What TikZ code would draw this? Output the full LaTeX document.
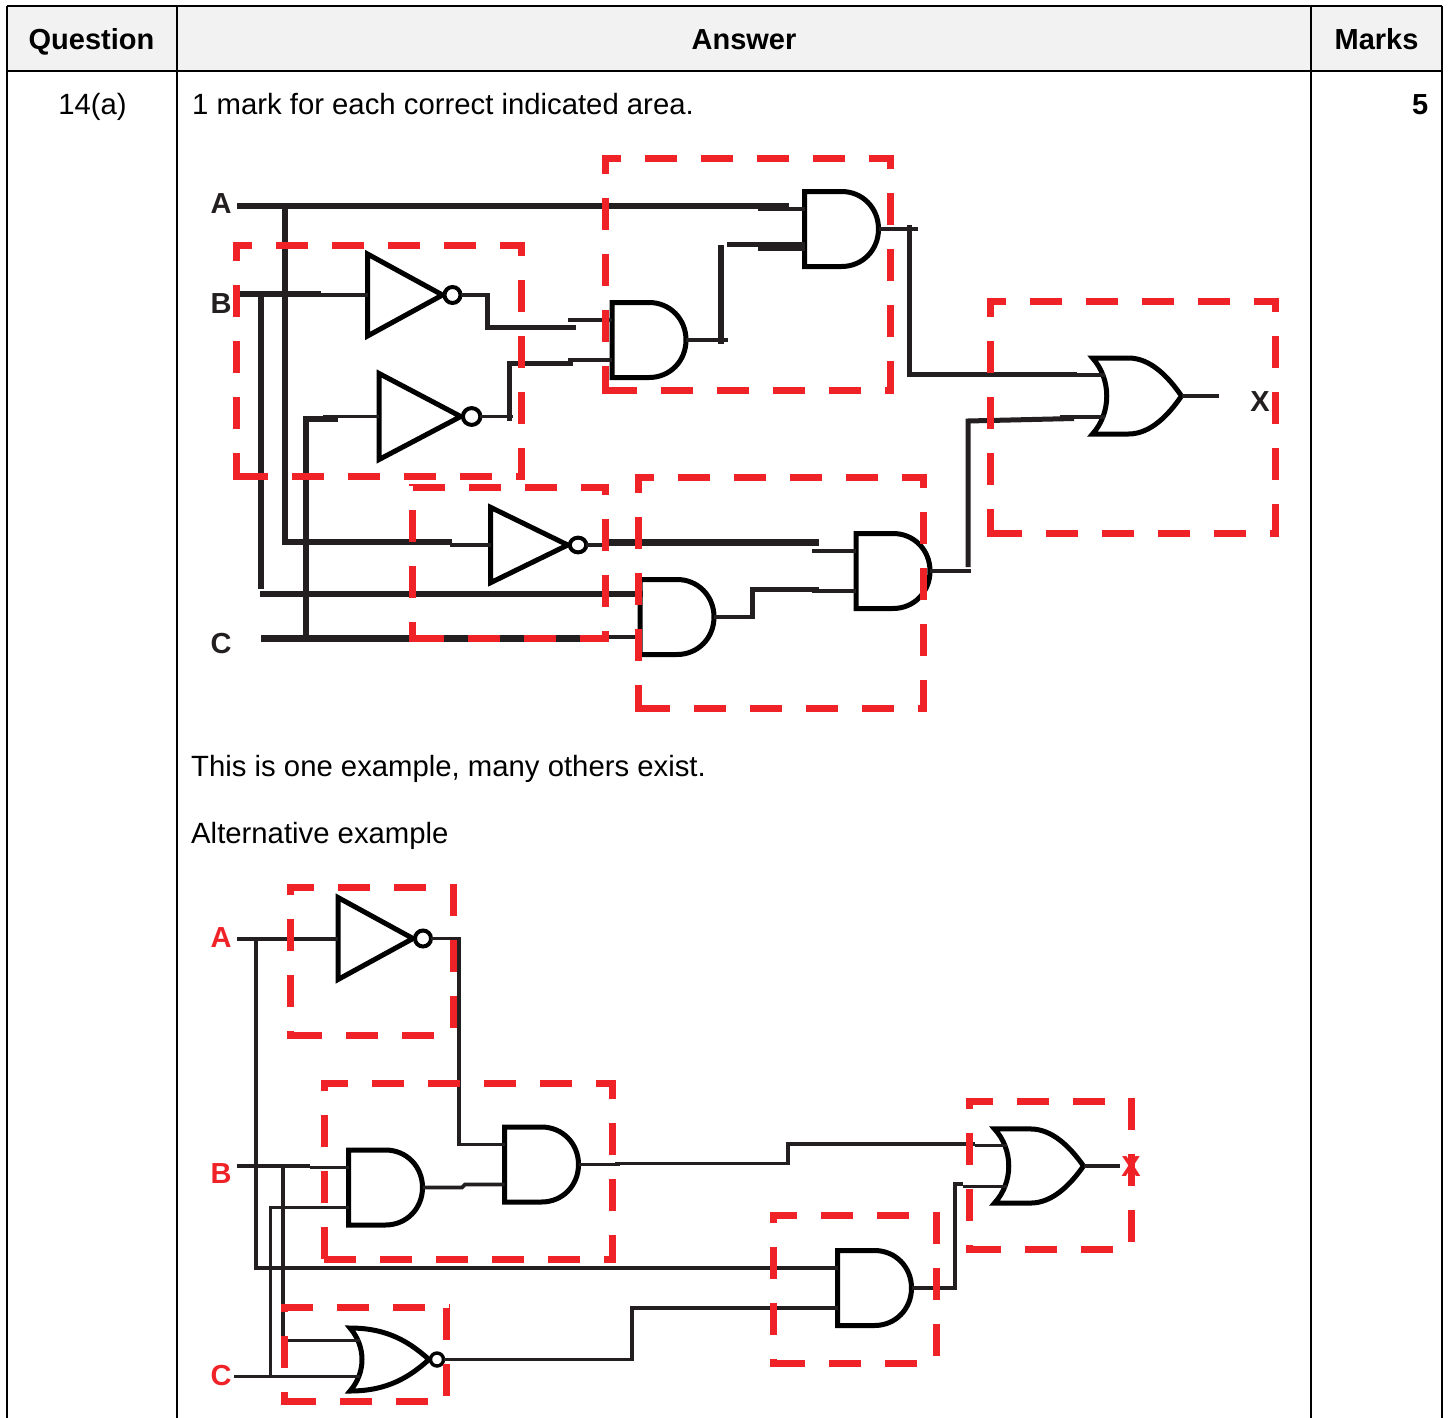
\documentclass[tikz,border=0pt]{standalone}
\usepackage{fontspec}
\setmainfont{Liberation Sans}
\definecolor{mred}{HTML}{EE2227}
\definecolor{ink}{HTML}{231F20}
\definecolor{headfill}{HTML}{F2F2F2}
\newcommand{\txt}{\fontsize{29.3}{34}\selectfont}
\newcommand{\lab}{\fontsize{29}{34}\selectfont\bfseries}
\newcommand{\redbox}[8]{%
  \draw[redsq,dash phase=#5pt] (#1-3.5,#2) -- (#3+3.5,#2);
  \draw[redsq,dash phase=#6pt] (#1,#2-3.5) -- (#1,#4+3.5);
  \draw[redsq,dash phase=#7pt] (#1,#4) -- (#3+3.5,#4);
  \draw[redsq,dash phase=#8pt] (#3,#2-3.5) -- (#3,#4+3.5);
}
\tikzset{
  x=1pt,y=-1pt,
  redsq/.style={draw=mred,line width=7pt,dash pattern=on 32pt off 24pt},
  gateline/.style={draw=black,line width=5pt,line join=miter},
  pin/.style={draw=ink,line width=3.6pt},
  wirea/.style={draw=ink,line width=6.5pt},
  wireb/.style={draw=ink,line width=5pt,line join=miter},
  wirec/.style={draw=ink,line width=3.6pt,line join=miter},
  wirecb/.style={draw=ink,line width=4.4pt},
  rule/.style={draw=black,line width=1.6pt},
  head/.style={font=\lab,text=black,anchor=base,inner sep=0pt},
  body/.style={font=\txt,text=black,anchor=base west,inner sep=0pt},
  sig/.style={font=\lab,text=ink,anchor=base,inner sep=0pt},
  sigred/.style={font=\lab,text=mred,anchor=base,inner sep=0pt},
  andgate/.pic={
    \draw[gateline] (0,-37.5) -- (37,-37.5) .. controls (58,-37.5) and (74,-21) .. (74,0)
      .. controls (74,21) and (58,37.5) .. (37,37.5) -- (0,37.5) -- cycle;
    \coordinate (-i1) at (0,-20); \coordinate (-i2) at (0,20); \coordinate (-o) at (74,0);
  },
  orgate/.pic={
    \draw[gateline] (0,-38) -- (36,-38) .. controls (58,-38) and (76,-19) .. (89,0)
      .. controls (76,19) and (58,38) .. (36,38) -- (0,38)
      .. controls (19,17) and (19,-17) .. (0,-38) -- cycle;
    \coordinate (-i1) at (12,-21); \coordinate (-i2) at (12,21); \coordinate (-o) at (89,0);
  },
  norgate/.pic={
    \draw[gateline] (0,-31.5) .. controls (38,-31.5) and (60,-17) .. (79,0)
      .. controls (60,17) and (38,31.5) .. (0,31.5)
      .. controls (16,13) and (16,-13) .. (0,-31.5) -- cycle;
    \draw[draw=black,line width=3.4pt,fill=white] (87,0) circle[radius=6.5];
    \coordinate (-i1) at (10,-19); \coordinate (-i2) at (10,17); \coordinate (-o) at (94,0);
  },
  notgate/.pic={
    \draw[gateline] (0,-41) -- (75,0) -- (0,41) -- cycle;
    \draw[draw=black,line width=4pt,fill=white] (85,0) circle[radius=8];
    \coordinate (-i) at (0,0); \coordinate (-o) at (93,0);
  },
}
\begin{document}
\begin{tikzpicture}
\useasboundingbox (0,0) rectangle (1453,1418);
% table
\fill[headfill] (7,6) rectangle (1442,71);
\draw[rule] (7,6) -- (1442,6);
\draw[rule] (7,71) -- (1442,71);
\draw[rule] (7,6) -- (7,1418);
\draw[rule] (177,6) -- (177,1418);
\draw[rule] (1311,6) -- (1311,1418);
\draw[rule] (1442,6) -- (1442,1418);
\node[head] (hq) at (91.5,49.5) {Question};
\node[head] (ha) at (744,49.5) {Answer};
\node[head] (hm) at (1376.5,49.5) {Marks};
\node[body,anchor=base] (qn) at (92.5,114) {14(a)};
\node[body] (t1) at (192,114) {1 mark for each correct indicated area.};
\node[head,anchor=base east] (mk) at (1428.5,114) {5};
\node[body] (t2) at (191,776) {This is one example, many others exist.};
\node[body] (t3) at (191,843) {Alternative example};

% ---------- first circuit ----------
\node[sig] (la) at (221,213) {A};
\node[sig] (lb) at (221,313) {B};
\node[sig] (lc) at (221,653) {C};
\node[sig] (lx) at (1260,411) {X};
\pic (n1) at (367.5,295) {notgate};
\pic (n2) at (379,416.5) [xscale=1.09,yscale=1.05] {notgate};
\pic (n3) at (490.5,545) [xscale=1.03,yscale=.92] {notgate};
\pic (g1) at (804.5,229) {andgate};
\pic (g2) at (612,340) {andgate};
\pic (g3) at (856,571) {andgate};
\pic (g4) at (640,617) {andgate};
\pic (o1) at (1092.5,396) {orgate};
\coordinate (inA) at (237,206);
\coordinate (inB) at (240,294);
\coordinate (inC) at (261,638.5);
\coordinate (jA) at (285,206);
\coordinate (jB) at (261,294);
\coordinate (jC) at (306,638.5);
\coordinate (endA) at (789,206);
\coordinate (endB) at (321,294);
\coordinate (endN3) at (452,542);
\coordinate (endB2) at (643,594);
\coordinate (endC) at (609,638.5);
% thick buses
\draw[wirea] (inA) -- (endA);
\draw[pin] (758,0 |- g1-i1) -- (g1-i1);
\draw[wirea] (inB) -- (endB);
\draw[pin] (321,0 |- n1-i) -- (n1-i);
\draw[wirea] (inC) -- (endC);
\draw[pin] (609,0 |- g4-i2) -- (g4-i2);
\draw[wirea,line width=6pt] (jA) -- (jA |- endN3) -- (endN3);
\draw[pin] (450,0 |- n3-i) -- (n3-i);
\draw[wirea,line width=6pt] (jB) -- (261,589);
\draw[wirea] (260,594) -- (endB2);
\draw[wirea,line width=6pt] (jC) -- (306,418.5) -- (338,418.5);
\draw[pin] (323,0 |- n2-i) -- (n2-i);
% inverter outputs
\draw[pin] (n1-o) -- (490,0 |- n1-o);
\draw[wireb] (487,295) -- (487,327) -- (576,327);
\draw[pin] (568,0 |- g2-i1) -- (g2-i1);
\draw[pin] (n2-o) -- (513,0 |- n2-o);
\draw[wireb] (509.5,421) -- (509.5,363.5) -- (573,363.5);
\draw[pin] (568,0 |- g2-i2) -- (g2-i2);
\draw[pin] (n3-o) -- (606,0 |- n3-o);
\draw[wirea] (605,542.5) -- (819,542.5);
\draw[pin] (812,0 |- g3-i1) -- (g3-i1);
% AND outputs
\draw[pin] (g2-o) -- (728,0 |- g2-o);
\draw[wireb,line width=5.5pt] (721,344) -- (721,245);
\draw[wireb] (727,244) -- (805,244);
\draw[pin] (758,0 |- g1-i2) -- (g1-i2);
\draw[pin] (g1-o) -- (918,0 |- g1-o);
\draw[wireb] (909,225) -- (909,374.5) -- (1077,374.5);
\draw[pin] (1060,0 |- o1-i1) -- (o1-i1);
\draw[pin] (g4-o) -- (753,0 |- g4-o);
\draw[wireb] (752.5,619) -- (752.5,589.5) -- (819,589.5);
\draw[pin] (812,0 |- g3-i2) -- (g3-i2);
\draw[pin] (g3-o) -- (971,0 |- g3-o);
\draw[wireb] (968,567) -- (968,421) -- (1074,418.5);
\draw[pin] (1060,0 |- o1-i2) -- (o1-i2);
\draw[pin] (o1-o) -- (1219,0 |- o1-o);
% red boxes
\redbox{236}{245}{521}{476}{12.5}{12.5}{0}{17.5}
\redbox{605}{158}{890}{390}{12.5}{12.5}{0}{17.5}
\redbox{412}{487}{605}{638}{51.5}{29.5}{0}{20.5}
\redbox{638}{477}{923}{708}{12.5}{12.5}{0}{17.5}
\redbox{990}{301}{1275}{533}{12.5}{12.5}{0}{17.5}

% ---------- alternative circuit ----------
\node[sigred] (ra) at (221,947) {A};
\node[sigred] (rb) at (221,1183) {B};
\node[sigred] (rc) at (221,1385) {C};
\pic (n4) at (338,938.5) {notgate};
\pic (g5) at (348.5,1187.5) {andgate};
\pic (g6) at (504.5,1164.5) {andgate};
\pic (g7) at (837.5,1288) {andgate};
\pic (o2) at (994.5,1166) [yscale=.975] {orgate};
\pic (n5) at (350,1359.5) {norgate};
\coordinate (inA2) at (237,939);
\coordinate (inB2) at (237,1166);
\coordinate (inC2) at (234,1376.5);
\draw[wirec] (inA2) -- (338,939);
\draw[wirec] (256,939) -- (256,1268) -- (g7-i1);
\draw[wirecb] (inB2) -- (310,1166);
\draw[wirec] (310,0 |- g5-i1) -- (g5-i1);
\draw[wirec] (283,1166) -- (283,1340.5) -- (n5-i1);
\draw[wirec] (inC2) -- (n5-i2);
\draw[wirec] (270.5,1376.5) -- (270.5,1207.5) -- (g5-i2);
\draw[wirec] (n4-o) -- (459,0 |- n4-o) -- (459,0 |- g6-i1) -- (g6-i1);
\draw[wirec] (g5-o) -- (462,1187.5) -- (465,1184.5) -- (g6-i2);
\draw[wirec] (g6-o) -- (620,0 |- g6-o);
\draw[wirec] (615,1163.5) -- (788,1163.5) -- (788,1144) -- (975,1144);
\draw[wirec] (975,0 |- o2-i1) -- (o2-i1);
\draw[wirec] (n5-o) -- (632,0 |- n5-o) -- (632,0 |- g7-i2) -- (g7-i2);
\draw[wirec] (g7-o) -- (955,0 |- g7-o) -- (955,1184) -- (963,1184);
\draw[wirec] (963,0 |- o2-i2) -- (o2-i2);
\draw[wirec] (o2-o) -- (1120,0 |- o2-o);
\redbox{290}{887}{453}{1035}{4.5}{20.5}{0}{0}
\redbox{324}{1083}{612}{1259}{4.5}{20.5}{0}{12.5}
\redbox{284}{1307}{446}{1401}{0}{24}{0}{51.5}
\redbox{773}{1215}{936}{1363}{4.5}{20.5}{0}{0}
\redbox{969}{1101}{1131}{1249}{4.5}{20.5}{0}{0}
\node[sigred] (rx) at (1131,1176) {X};
\end{tikzpicture}
\end{document}
